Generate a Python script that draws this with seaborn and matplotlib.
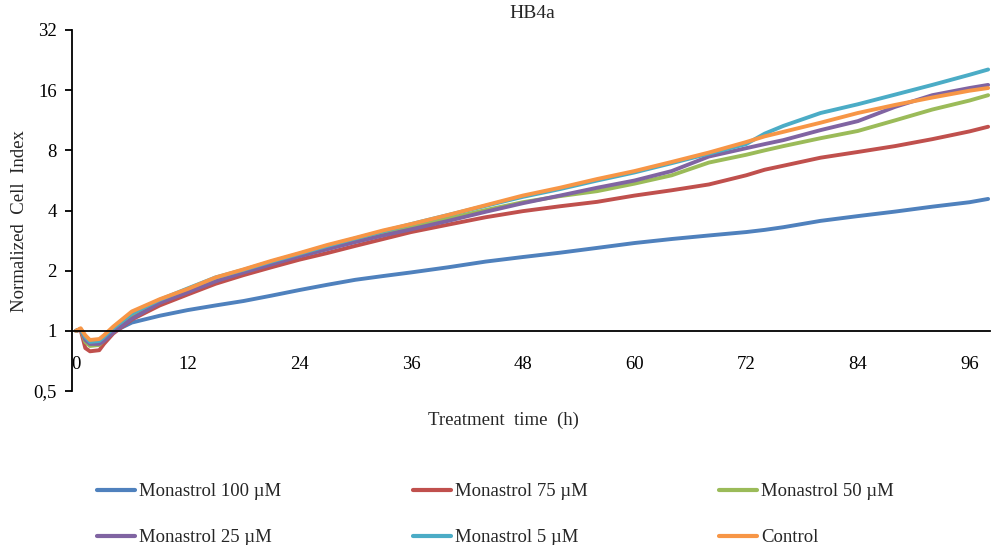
import numpy as np
import pandas as pd
import matplotlib
matplotlib.use("Agg")
import matplotlib.pyplot as plt
import seaborn as sns
from matplotlib.lines import Line2D
from matplotlib.ticker import FixedLocator, NullLocator

sns.set_style("white")
plt.rcParams["font.family"] = ["Liberation Serif", "DejaVu Serif"]

# ---------------- data ----------------
time_h = [0, 0.5, 1, 1.5, 2.5, 3, 4, 6, 9, 12, 15, 18, 21, 24, 27, 30, 33, 36,
          40, 44, 48, 52, 56, 60, 64, 68, 72, 74, 76, 80, 84, 88, 92, 96, 98]

mon100 = [1.00, 1.02, 0.92, 0.88, 0.88, 0.92, 0.99, 1.10, 1.19, 1.27, 1.34, 1.41,
          1.50, 1.60, 1.70, 1.80, 1.88, 1.96, 2.08, 2.22, 2.34, 2.46, 2.60, 2.75,
          2.88, 3.00, 3.12, 3.20, 3.30, 3.55, 3.75, 3.95, 4.18, 4.40, 4.57]
mon75 = [1.00, 1.01, 0.82, 0.79, 0.80, 0.86, 0.97, 1.14, 1.34, 1.52, 1.72, 1.90,
         2.08, 2.27, 2.45, 2.66, 2.88, 3.12, 3.40, 3.70, 3.97, 4.20, 4.42, 4.75,
         5.05, 5.40, 6.00, 6.40, 6.70, 7.35, 7.85, 8.40, 9.10, 9.95, 10.5]
mon50 = [1.00, 1.02, 0.88, 0.84, 0.85, 0.90, 1.00, 1.18, 1.40, 1.60, 1.82, 2.00,
         2.20, 2.40, 2.62, 2.85, 3.08, 3.32, 3.65, 4.02, 4.40, 4.72, 5.00, 5.45,
         6.00, 6.95, 7.60, 8.00, 8.40, 9.20, 10.0, 11.3, 12.8, 14.2, 15.1]
mon25 = [1.00, 1.02, 0.90, 0.86, 0.86, 0.89, 0.98, 1.15, 1.38, 1.56, 1.77, 1.96,
         2.15, 2.36, 2.56, 2.78, 3.00, 3.22, 3.55, 3.94, 4.35, 4.75, 5.20, 5.65,
         6.30, 7.45, 8.20, 8.60, 9.00, 10.1, 11.2, 13.2, 15.1, 16.4, 17.0]
mon5 = [1.00, 1.02, 0.93, 0.88, 0.89, 0.93, 1.03, 1.22, 1.43, 1.63, 1.85, 2.02,
        2.22, 2.43, 2.66, 2.90, 3.15, 3.42, 3.80, 4.22, 4.68, 5.12, 5.65, 6.20,
        6.90, 7.70, 8.60, 9.70, 10.6, 12.3, 13.6, 15.2, 17.0, 19.1, 20.3]
control = [1.00, 1.03, 0.95, 0.90, 0.91, 0.95, 1.05, 1.25, 1.44, 1.62, 1.85, 2.03,
           2.24, 2.45, 2.69, 2.92, 3.18, 3.42, 3.80, 4.25, 4.75, 5.20, 5.75, 6.30,
           7.00, 7.80, 8.80, 9.40, 9.90, 11.0, 12.3, 13.5, 14.7, 15.9, 16.4]

series_names = ["Monastrol 100 \u00b5M", "Monastrol 75 \u00b5M", "Monastrol 50 \u00b5M",
                "Monastrol 25 \u00b5M", "Monastrol 5 \u00b5M", "Control"]
series_values = [mon100, mon75, mon50, mon25, mon5, control]
colors = ["#4F81BD", "#C0504D", "#9BBB59", "#8064A2", "#4BACC6", "#F79646"]

x_ticks = [0, 12, 24, 36, 48, 60, 72, 84, 96]
y_ticks = [0.5, 1, 2, 4, 8, 16, 32]
y_tick_labels = ["0,5", "1", "2", "4", "8", "16", "32"]

# ---------------- build long table ----------------
frames = []
for name, vals in zip(series_names, series_values):
    frames.append(pd.DataFrame({"time": time_h, "value": vals, "series": name}))
df = pd.concat(frames, ignore_index=True)

W, H = 993, 545
fig = plt.figure(figsize=(W / 100, H / 100), dpi=100)
ax = fig.add_axes([72 / W, 1 - 391 / H, 918 / W, 361 / H])

sns.lineplot(data=df, x="time", y="value", hue="series", hue_order=series_names,
             palette=dict(zip(series_names, colors)), linewidth=2.8,
             estimator=None, errorbar=None, legend=False, ax=ax)

ax.set_yscale("log", base=2)
ax.set_ylim(0.5, 32)
ax.set_xlim(-0.43, 98.2)
ax.yaxis.set_major_locator(FixedLocator(y_ticks))
ax.yaxis.set_minor_locator(NullLocator())
ax.set_yticklabels(y_tick_labels)
ax.set_xticks(x_ticks)
ax.set_xticklabels([str(v) for v in x_ticks])
ax.set_xlabel("")
ax.set_ylabel("")

for s in ["top", "right"]:
    ax.spines[s].set_visible(False)
for s in ["left", "bottom"]:
    ax.spines[s].set_color("black")
    ax.spines[s].set_linewidth(1.3)
ax.spines["bottom"].set_position(("data", 1))

ax.tick_params(axis="y", left=True, length=5, width=1.3, direction="out",
               pad=6, labelsize=13.5, colors="black")
ax.tick_params(axis="x", bottom=True, length=0, pad=18, labelsize=13.5,
               labelcolor="black")
ax.grid(False)

fig.text(532 / W, 1 - 14 / H, "HB4a", ha="center", va="center", fontsize=14)
fig.text(20 / W, 1 - 221 / H, "Normalized  Cell  Index", rotation=90,
         ha="center", va="center", fontsize=13.5)
fig.text(503 / W, 1 - 420 / H, "Treatment  time  (h)", ha="center", va="center",
         fontsize=13.5)

# legend: row-wise order in reference -> column-major order for matplotlib
order = [0, 3, 1, 4, 2, 5]
handles = [Line2D([0], [0], color=colors[i], lw=3) for i in order]
labels = [series_names[i] for i in order]
fig.legend(handles, labels, ncol=3, loc="upper left",
           bbox_to_anchor=(97 / W, 1 - 483 / H), frameon=False,
           fontsize=13.5, handlelength=2.05, handletextpad=0.2,
           columnspacing=7.0, labelspacing=1.56, borderpad=0, borderaxespad=0)

fig.savefig("out.png", dpi=100)
